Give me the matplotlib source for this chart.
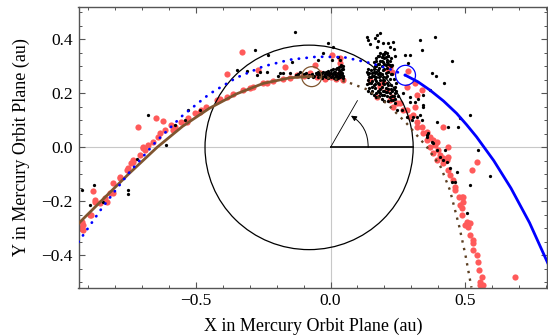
import matplotlib
matplotlib.use("Agg")
import matplotlib.pyplot as plt
from matplotlib.patches import Ellipse, Circle
from matplotlib.ticker import MultipleLocator

# ---------------- data (au, Mercury orbit plane) ----------------
# Mercury orbit ellipse
merc_center = (-0.0796, 0.0)
merc_a = 0.387
merc_b = 0.3787

# brown solid trajectory (observed part)
brown_solid_x = [-0.939, -0.85, -0.75, -0.645, -0.55, -0.45, -0.35, -0.25, -0.15, -0.07]
brown_solid_y = [-0.284, -0.196, -0.098, 0.000, 0.078, 0.145, 0.198, 0.237, 0.258, 0.263]
# brown dotted continuation
brown_dot_x = [-0.070, -0.002, 0.060, 0.135, 0.209, 0.283, 0.358, 0.410, 0.444, 0.479, 0.502, 0.524]
brown_dot_y = [0.263, 0.256, 0.243, 0.215, 0.163, 0.089, 0.002, -0.073, -0.158, -0.294, -0.400, -0.519]
# blue dotted trajectory
blue_dot_x = [-0.937, -0.85, -0.75, -0.65, -0.55, -0.45, -0.35, -0.25, -0.15, -0.05,
              0.05, 0.15, 0.22, 0.279]
blue_dot_y = [-0.350, -0.225, -0.095, 0.020, 0.118, 0.198, 0.258, 0.300, 0.325, 0.336,
              0.334, 0.312, 0.290, 0.267]
# blue solid continuation
blue_solid_x = [0.279, 0.325, 0.370, 0.420, 0.469, 0.506, 0.543, 0.607, 0.671, 0.740, 0.809]
blue_solid_y = [0.267, 0.243, 0.212, 0.172, 0.126, 0.084, 0.039, -0.049, -0.151, -0.279, -0.431]

brown_marker = (-0.070, 0.262)
blue_marker = (0.279, 0.267)
marker_r = 0.037

# angle sketch
angle_end = (0.1, 0.1732)
arc_start = (0.14, 0.0)
arc_end = (0.0762, 0.1174)
perihelion_x = 0.307

# red points
red_pts = [
    (-0.926, -0.300), (-0.920, -0.288), (-0.931, -0.300), (-0.919, -0.306), (-0.925, -0.276),
    (-0.894, -0.251), (-0.889, -0.251), (-0.877, -0.195), (-0.883, -0.161), (-0.875, -0.201),
    (-0.858, -0.207), (-0.839, -0.189), (-0.832, -0.201), (-0.821, -0.170), (-0.809, -0.133),
    (-0.807, -0.170), (-0.784, -0.115), (-0.782, -0.109), (-0.758, -0.084), (-0.753, -0.078),
    (-0.741, -0.059), (-0.733, -0.053), (-0.734, -0.047), (-0.709, -0.029), (-0.697, -0.001),
    (-0.691, -0.010), (-0.678, 0.009), (-0.660, 0.021), (-0.641, 0.039), (-0.635, 0.052),
    (-0.616, 0.064), (-0.592, 0.083), (-0.584, 0.064), (-0.579, 0.076), (-0.555, 0.095),
    (-0.535, 0.095), (-0.530, 0.107), (-0.505, 0.126), (-0.485, 0.132), (-0.480, 0.138),
    (-0.462, 0.150), (-0.423, 0.175), (-0.411, 0.181), (-0.386, 0.187), (-0.361, 0.197),
    (-0.324, 0.212), (-0.299, 0.219), (-0.287, 0.224), (-0.250, 0.237), (-0.237, 0.237),
    (-0.213, 0.247), (-0.175, 0.252), (-0.150, 0.258), (-0.126, 0.268), (-0.100, 0.265),
    (-0.076, 0.274), (-0.039, 0.276), (-0.002, 0.268), (-0.051, 0.261), (0.000, 0.260),
    (0.020, 0.255), (0.040, 0.260), (0.030, 0.270), (-0.020, 0.255), (0.045, 0.250),
    (-0.716, 0.074), (-0.648, 0.107), (-0.623, 0.099), (-0.696, 0.002), (-0.386, 0.270),
    (-0.330, 0.354), (-0.268, 0.286), (-0.169, 0.299), (-0.058, 0.305), (0.004, 0.342),
    (0.035, 0.330), (0.035, 0.311),
    (0.147, 0.249), (0.184, 0.231), (0.221, 0.299), (0.215, 0.286), (0.228, 0.280),
    (0.209, 0.212), (0.196, 0.243), (0.184, 0.224), (0.172, 0.187), (0.221, 0.175),
    (0.228, 0.187), (0.233, 0.150), (0.246, 0.163), (0.271, 0.138), (0.258, 0.163),
    (0.283, 0.138), (0.296, 0.113), (0.308, 0.120), (0.314, 0.150), (0.320, 0.095),
    (0.320, 0.076), (0.339, 0.076), (0.345, 0.052), (0.358, 0.058), (0.358, 0.027),
    (0.370, 0.039), (0.370, 0.002), (0.382, 0.027), (0.382, -0.022), (0.388, 0.009),
    (0.395, 0.021), (0.401, -0.010), (0.395, -0.047), (0.407, -0.029), (0.419, -0.041),
    (0.419, -0.059), (0.432, -0.047), (0.438, -0.035), (0.438, -0.084), (0.444, -0.103),
    (0.457, -0.121), (0.463, -0.146), (0.463, -0.158), (0.476, -0.183), (0.494, -0.183),
    (0.488, -0.183), (0.494, -0.201), (0.481, -0.214), (0.488, -0.226), (0.488, -0.251),
    (0.506, -0.276), (0.519, -0.281), (0.500, -0.288), (0.512, -0.294), (0.519, -0.325),
    (0.531, -0.343), (0.529, -0.356), (0.531, -0.380), (0.544, -0.399), (0.549, -0.424),
    (0.553, -0.454), (0.562, -0.479), (0.556, -0.498), (0.568, -0.510), (0.556, -0.510),
    (0.287, 0.283), (0.283, 0.224), (0.314, 0.237), (0.339, 0.212), (0.320, 0.194),
    (0.419, 0.076), (0.438, 0.002), (0.543, -0.053), (0.525, -0.084), (0.686, -0.479),
]

# black points (scattered)
black_pts = [
    (-0.925, -0.158), (-0.881, -0.140), (-0.894, -0.214), (-0.846, -0.201), (-0.753, -0.158),
    (-0.753, -0.173), (-0.718, -0.044), (-0.678, 0.120), (-0.613, 0.010), (-0.579, 0.083),
    (-0.542, 0.101), (-0.530, 0.138), (-0.485, 0.138), (-0.349, 0.286), (-0.312, 0.284),
    (-0.281, 0.360), (-0.274, 0.268), (-0.262, 0.280), (-0.237, 0.280), (-0.231, 0.342),
    (-0.194, 0.264), (-0.188, 0.274), (-0.175, 0.274), (-0.151, 0.274), (-0.144, 0.317),
    (-0.113, 0.280), (-0.132, 0.428), (-0.008, 0.385), (0.010, 0.373), (-0.027, 0.350),
    (0.029, 0.336), (0.035, 0.323), (-0.045, 0.323), (0.004, 0.323),
    (0.135, 0.410), (0.141, 0.397), (0.147, 0.383), (0.165, 0.404), (0.174, 0.416),
    (0.184, 0.424), (0.178, 0.395), (0.196, 0.387), (0.215, 0.387), (0.231, 0.391),
    (0.221, 0.373), (0.236, 0.363), (0.172, 0.370), (0.203, 0.354), (0.196, 0.342),
    (0.215, 0.338), (0.240, 0.338), (0.277, 0.342), (0.296, 0.342), (0.289, 0.311),
    (0.333, 0.397), (0.339, 0.360), (0.388, 0.410), (0.451, 0.321), (0.376, 0.276),
    (0.392, 0.264), (0.422, 0.237), (0.370, 0.212), (0.345, 0.150), (0.345, 0.194),
    (0.326, 0.181), (0.296, 0.169), (0.271, 0.200), (0.395, 0.095), (0.438, 0.076),
    (0.475, 0.076), (0.481, 0.107), (0.519, 0.120), (0.549, -0.010), (0.519, -0.140),
    (0.593, -0.106), (0.506, -0.243), (0.444, -0.078), (0.469, -0.090), (0.451, -0.127),
    (0.463, -0.127), (0.426, -0.010), (0.296, 0.186), (0.314, 0.169), (0.320, 0.113),
    (0.333, 0.120), (0.345, 0.157), (0.358, 0.039), (0.376, 0.021), (0.233, 0.175),
    (0.240, 0.163), (0.265, 0.138), (0.283, 0.113), (0.302, 0.101), (0.364, 0.052),
    (0.382, 0.015), (0.407, -0.035), (0.432, -0.053), (0.308, 0.113), (0.339, 0.101),
    (0.358, 0.046), (0.395, -0.010), (0.419, -0.047), (0.246, 0.138),
]

# black points (dense clump near x = 0)
black_clump_left = [
    (-0.050, 0.270), (-0.045, 0.262), (-0.040, 0.275), (-0.035, 0.265), (-0.030, 0.258),
    (-0.028, 0.280), (-0.020, 0.270), (-0.015, 0.262), (-0.010, 0.283), (-0.005, 0.268),
    (0.000, 0.276), (0.003, 0.260), (0.008, 0.290), (0.010, 0.270), (0.015, 0.262),
    (0.018, 0.280), (0.022, 0.268), (0.026, 0.295), (0.028, 0.258), (0.030, 0.285),
    (0.033, 0.272), (0.036, 0.262), (0.038, 0.300), (0.040, 0.280), (0.043, 0.268),
    (0.045, 0.290), (0.046, 0.258), (0.020, 0.255), (-0.060, 0.265), (-0.070, 0.270),
    (-0.080, 0.268), (-0.090, 0.275), (-0.100, 0.272),
    (-0.048, 0.280), (-0.042, 0.270), (-0.033, 0.275), (-0.025, 0.265), (-0.018, 0.278),
    (-0.012, 0.270), (-0.006, 0.276), (0.002, 0.285), (0.006, 0.266), (0.012, 0.278),
    (0.016, 0.270), (0.021, 0.290), (0.024, 0.262), (0.027, 0.275), (0.031, 0.265),
    (0.034, 0.282), (0.037, 0.270), (0.041, 0.290), (0.044, 0.275), (0.047, 0.265),
    (0.046, 0.300), (0.040, 0.305), (0.032, 0.298), (0.012, 0.256), (-0.008, 0.258),
    (-0.055, 0.275), (-0.065, 0.262), (-0.085, 0.262), (-0.120, 0.272), (-0.130, 0.268),
]

# black points (dense clump near x = 0.19)
black_clump_right = [
    (0.170, 0.330), (0.180, 0.340), (0.190, 0.335), (0.200, 0.330), (0.210, 0.325),
    (0.220, 0.320), (0.175, 0.310), (0.185, 0.320), (0.195, 0.315), (0.205, 0.305),
    (0.215, 0.310), (0.225, 0.300), (0.165, 0.300), (0.180, 0.295), (0.190, 0.300),
    (0.200, 0.290), (0.210, 0.295), (0.230, 0.305), (0.160, 0.315), (0.185, 0.350),
    (0.200, 0.345), (0.215, 0.340),
    (0.135, 0.280), (0.140, 0.270), (0.145, 0.260), (0.150, 0.285), (0.155, 0.275),
    (0.160, 0.265), (0.165, 0.255), (0.170, 0.280), (0.175, 0.270), (0.180, 0.260),
    (0.185, 0.250), (0.190, 0.270), (0.195, 0.260), (0.200, 0.250), (0.210, 0.265),
    (0.220, 0.255), (0.140, 0.250), (0.150, 0.240), (0.160, 0.230), (0.170, 0.245),
    (0.180, 0.235), (0.190, 0.225), (0.200, 0.235), (0.210, 0.240), (0.135, 0.235),
    (0.145, 0.220), (0.155, 0.210), (0.165, 0.220), (0.175, 0.210), (0.185, 0.200),
    (0.195, 0.210), (0.205, 0.220), (0.215, 0.215), (0.225, 0.230), (0.160, 0.195),
    (0.170, 0.185), (0.180, 0.190), (0.190, 0.180), (0.200, 0.195), (0.210, 0.190),
    (0.220, 0.200), (0.230, 0.210), (0.235, 0.190), (0.240, 0.200), (0.150, 0.200),
    (0.140, 0.210), (0.215, 0.170), (0.225, 0.175), (0.200, 0.170), (0.240, 0.225),
    (0.245, 0.240), (0.230, 0.270), (0.160, 0.290), (0.170, 0.300),
    (0.145, 0.275), (0.155, 0.265), (0.165, 0.275), (0.175, 0.285), (0.185, 0.275),
    (0.195, 0.285), (0.205, 0.275), (0.215, 0.280), (0.225, 0.270), (0.235, 0.255),
    (0.155, 0.245), (0.165, 0.235), (0.175, 0.240), (0.185, 0.215), (0.195, 0.240),
    (0.205, 0.205), (0.215, 0.230), (0.225, 0.215), (0.145, 0.240), (0.155, 0.225),
    (0.170, 0.200), (0.180, 0.205), (0.190, 0.195), (0.200, 0.210), (0.210, 0.205),
    (0.220, 0.185), (0.230, 0.190), (0.180, 0.310), (0.190, 0.320), (0.200, 0.310),
    (0.210, 0.315), (0.220, 0.305), (0.170, 0.320), (0.195, 0.345), (0.205, 0.335),
    (0.175, 0.340), (0.210, 0.350), (0.225, 0.330), (0.160, 0.280), (0.150, 0.260),
    (0.140, 0.290), (0.235, 0.215), (0.240, 0.180), (0.245, 0.210), (0.250, 0.190),
    (0.185, 0.265), (0.195, 0.250), (0.205, 0.260), (0.170, 0.260), (0.180, 0.275),
]

x_ticks = [-0.5, 0.0, 0.5]
y_ticks = [-0.4, -0.2, 0.0, 0.2, 0.4]
x_ticklabels = ['\u22120.5', '0.0', '0.5']
y_ticklabels = ['\u22120.4', '\u22120.2', '0.0', '0.2', '0.4']
xlim = (-0.937, 0.805)
ylim = (-0.519, 0.520)

# ---------------- plotting ----------------
plt.rcParams['font.family'] = ['Liberation Serif', 'DejaVu Serif']

fig = plt.figure(figsize=(5.48, 3.36), dpi=100)
ax = fig.add_axes([78.5 / 548, 48.5 / 336, 468.5 / 548, 280.5 / 336])
ax.set_xlim(*xlim)
ax.set_ylim(*ylim)

grid_c = '#c8c8c8'
ax.axhline(0, color=grid_c, lw=0.8, zorder=0)
ax.axvline(0, color=grid_c, lw=0.8, zorder=0)

red_c = '#ff5a5a'
ax.scatter([p[0] for p in red_pts], [p[1] for p in red_pts], s=20, c=red_c,
           linewidths=0, zorder=2)
all_black = black_pts + black_clump_left + black_clump_right
ax.scatter([p[0] for p in all_black], [p[1] for p in all_black], s=5.5, c='black',
           marker='o', linewidths=0, zorder=3)

ax.add_patch(Ellipse(merc_center, 2 * merc_a, 2 * merc_b, fill=False, ec='black',
                     lw=0.9, zorder=4))

brown_c = '#7f552f'
ax.plot(brown_solid_x, brown_solid_y, color=brown_c, lw=2.0, zorder=5,
        solid_capstyle='butt')
ax.plot(brown_dot_x, brown_dot_y, color='#5c3f22', lw=1.7, zorder=5,
        linestyle=(0, (1, 2.3)), dash_capstyle='butt')
ax.plot(blue_dot_x, blue_dot_y, color='#0000ff', lw=2.0, zorder=5,
        linestyle=(0, (0.1, 2.7)), dash_capstyle='round')
ax.plot(blue_solid_x, blue_solid_y, color='#0000ff', lw=2.0, zorder=5)

ax.add_patch(Circle(brown_marker, marker_r, fill=False, ec=brown_c, lw=0.9, zorder=6))
ax.add_patch(Circle(blue_marker, marker_r, fill=False, ec='#0000ff', lw=0.9, zorder=6))

# angle sketch
ax.plot([0, perihelion_x], [0, 0], color='black', lw=1.2, zorder=6)
ax.plot([0, angle_end[0]], [0, angle_end[1]], color='black', lw=0.6, zorder=6)
ax.annotate('', xy=arc_end, xytext=arc_start,
            arrowprops=dict(arrowstyle='-|>', connectionstyle='arc3,rad=0.28',
                            lw=0.7, color='black', mutation_scale=8,
                            shrinkA=0, shrinkB=0), zorder=6)

# axes styling
spine_c = '#555555'
for s in ax.spines.values():
    s.set_color(spine_c)
    s.set_linewidth(1.0)
ax.set_xticks(x_ticks)
ax.set_yticks(y_ticks)
ax.xaxis.set_minor_locator(MultipleLocator(0.1))
ax.yaxis.set_minor_locator(MultipleLocator(0.05))
ax.set_xticklabels(x_ticklabels)
ax.set_yticklabels(y_ticklabels)
ax.tick_params(which='both', direction='in', top=True, right=True, color=spine_c,
               labelsize=12.5, pad=4)
ax.tick_params(which='major', length=4.5, width=0.8)
ax.tick_params(which='minor', length=2.5, width=0.7)

ax.set_xlabel('X in Mercury Orbit Plane (au)', fontsize=13, labelpad=6)
ax.set_ylabel('Y in Mercury Orbit Plane (au)', fontsize=13, labelpad=8)

fig.savefig('out.png', dpi=100)
